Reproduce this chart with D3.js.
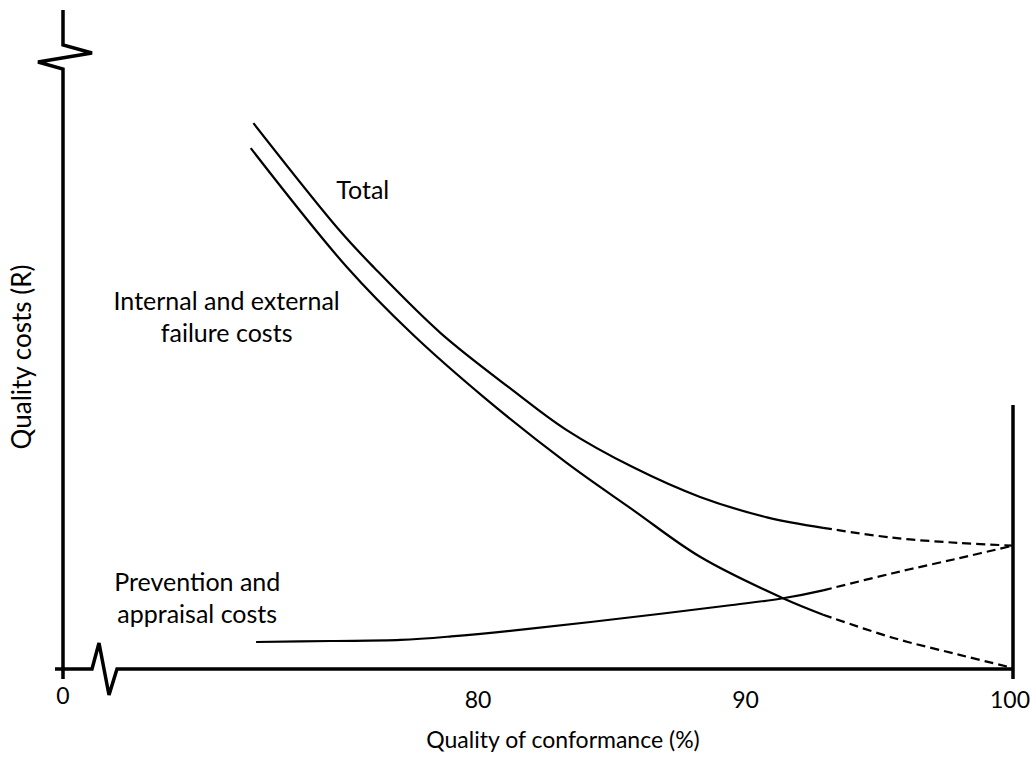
<!DOCTYPE html>
<html>
<head>
<meta charset="utf-8">
<script src="https://cdn.jsdelivr.net/npm/d3@7"></script>
<style>
  html, body { margin: 0; padding: 0; background: #fff; }
  svg text { font-family: Lato, "Open Sans", sans-serif; fill: #000; }
</style>
</head>
<body>
<svg id="chart" width="1031" height="759"></svg>
<script>
// ---- data ----
const tickValues = [0, 80, 90, 100];
const tickLabels = ["0", "80", "90", "100"];
const breakAt = 92.9; // solid up to here, dashed afterwards

const totalX = [71.6, 74.8, 76.1, 78.6, 81.3, 83.3, 85.8, 88.3, 90.8, 92.9, 95.5, 98.0, 100];
const totalY = [82.8, 66.6, 60.9, 50.9, 42.2, 36.2, 30.5, 26.0, 22.9, 21.3, 19.8, 19.0, 18.6];

const failureX = [71.5, 75.1, 77.5, 80.2, 83.3, 85.8, 88.3, 91.4, 92.9, 95.5, 98.0, 100];
const failureY = [79.0, 60.9, 50.9, 41.2, 31.2, 24.0, 16.9, 10.6, 8.1, 4.6, 2.0, 0];

const preventionX = [71.7, 74.5, 77.1, 79.0, 81.8, 85.8, 89.5, 91.4, 92.9, 95.5, 98.0, 100];
const preventionY = [3.95, 4.1, 4.26, 4.8, 5.9, 7.75, 9.57, 10.6, 11.8, 14.4, 16.7, 18.6];

const seriesLabels = [
  { lines: ["Total"], x: 74.7, y: 71.3, anchor: "start" },
  { lines: ["Internal and external", "failure costs"], x: 70.6, y: 54.4, anchor: "middle" },
  { lines: ["Prevention and", "appraisal costs"], x: 69.5, y: 11.7, anchor: "middle" }
];
const xTitle = "Quality of conformance (%)";
const yTitle = "Quality costs (R)";

// ---- layout ----
const W = 1031;
const svg = d3.select("#chart");
const originX = 63, originY = 668;
// piecewise scale: 0 at the origin, a break, then 66.5..100
const x = d3.scaleLinear().domain([0, 66.5, 100]).range([originX, 117, 1013]);
const y = d3.scaleLinear().domain([0, 100]).range([originY, 10]);

const tickFont = 23, titleFont = 23, yTitleFont = 26, labelFont = 25;
const lineGap = 32;

// ---- axes with breaks ----
const axisStroke = 3.5;
svg.append("path")
  .attr("d", d3.line()([
    [originX, 10], [originX, 45], [92, 53], [38, 62], [originX, 69], [originX, originY + 11]
  ]))
  .attr("fill", "none").attr("stroke", "#000").attr("stroke-width", axisStroke);
svg.append("path")
  .attr("d", d3.line()([
    [originX - 8, originY + 1], [92, originY + 1], [99, 643], [109, 695], [117, originY + 1], [x(100), originY + 1]
  ]))
  .attr("fill", "none").attr("stroke", "#000").attr("stroke-width", axisStroke);
svg.append("line")
  .attr("x1", x(100)).attr("x2", x(100))
  .attr("y1", 405).attr("y2", originY + 11)
  .attr("stroke", "#000").attr("stroke-width", axisStroke);

// tick labels
svg.selectAll("text.tick")
  .data(tickValues)
  .join("text")
  .attr("class", "tick")
  .attr("x", d => x(d))
  .attr("y", (d, i) => i === 0 ? 704 : 708)
  .attr("text-anchor", "middle")
  .attr("font-size", tickFont)
  .text((d, i) => tickLabels[i])
  .each(function () {
    // keep labels inside the picture
    const w = this.getComputedTextLength();
    const cx = +this.getAttribute("x");
    if (cx + w / 2 > W - 1) this.setAttribute("x", W - 1 - w / 2);
  });

// axis titles
svg.append("text")
  .attr("x", 563).attr("y", 748)
  .attr("text-anchor", "middle").attr("font-size", titleFont)
  .text(xTitle);
svg.append("text")
  .attr("transform", "translate(31,357) rotate(-90)")
  .attr("text-anchor", "middle").attr("font-size", yTitleFont)
  .text(yTitle);

// ---- curves ----
const line = d3.line().x(d => x(d[0])).y(d => y(d[1])).curve(d3.curveCatmullRom.alpha(0.5));
function drawSeries(xs, ys) {
  const pts = xs.map((v, i) => [v, ys[i]]);
  const solid = pts.filter(p => p[0] <= breakAt + 1e-9);
  const dashed = pts.filter(p => p[0] >= breakAt - 1e-9);
  svg.append("path").attr("d", line(solid))
    .attr("fill", "none").attr("stroke", "#000").attr("stroke-width", 2.2);
  svg.append("path").attr("d", line(dashed))
    .attr("fill", "none").attr("stroke", "#000").attr("stroke-width", 2.2)
    .attr("stroke-dasharray", "9,5");
}
drawSeries(totalX, totalY);
drawSeries(failureX, failureY);
drawSeries(preventionX, preventionY);

// ---- series labels ----
seriesLabels.forEach(l => {
  const t = svg.append("text")
    .attr("x", x(l.x)).attr("y", y(l.y))
    .attr("text-anchor", l.anchor).attr("font-size", labelFont);
  l.lines.forEach((s, i) => {
    t.append("tspan").attr("x", x(l.x)).attr("dy", i === 0 ? 0 : lineGap).text(s);
  });
});
</script>
</body>
</html>
